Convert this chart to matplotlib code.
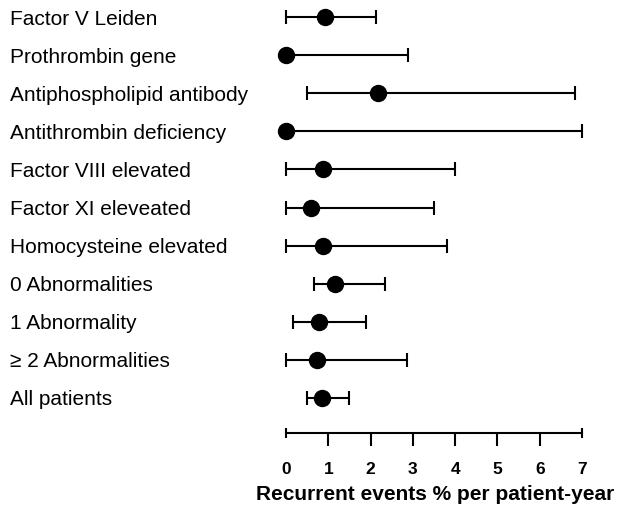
import matplotlib
matplotlib.use("Agg")
import matplotlib.pyplot as plt
import matplotlib.transforms as mtransforms
import numpy as np

plt.rcParams['font.family'] = ['Liberation Sans', 'DejaVu Sans']

labels = ["Factor V Leiden", "Prothrombin gene", "Antiphospholipid antibody",
          "Antithrombin deficiency", "Factor VIII elevated", "Factor XI eleveated",
          "Homocysteine elevated", "0 Abnormalities", "1 Abnormality",
          "\u2265 2 Abnormalities", "All patients"]
estimate = [0.92, 0.0, 2.17, 0.0, 0.87, 0.58, 0.87, 1.16, 0.79, 0.74, 0.84]
lower = [0.0, 0.0, 0.50, 0.0, 0.0, 0.0, 0.0, 0.66, 0.16, 0.0, 0.50]
upper = [2.12, 2.88, 6.83, 7.0, 4.0, 3.51, 3.81, 2.33, 1.89, 2.85, 1.50]
xticks = [0, 1, 2, 3, 4, 5, 6, 7]

est = np.array(estimate)
err = [est - np.array(lower), np.array(upper) - est]
rows = np.arange(len(labels))

fig = plt.figure(figsize=(6.18, 5.15), dpi=100)
ax = fig.add_axes([286 / 618, 1 - 433 / 515, 296 / 618, 433 / 515])

ax.errorbar(est, rows, xerr=err, fmt='o', color='black', ecolor='black',
            markersize=11.5, elinewidth=1.5, capsize=5, capthick=1.5, clip_on=False)

ax.set_xlim(0, 7)
ax.set_ylim(10.92, -0.45)

for s in ['top', 'right', 'left']:
    ax.spines[s].set_visible(False)
ax.spines['bottom'].set_bounds(0, 7)
ax.spines['bottom'].set_linewidth(1.5)
ax.set_yticks([])

# end caps of the axis line
ax.plot([0, 7], [10.92, 10.92], linestyle='none', marker='|', color='black',
        markersize=7, markeredgewidth=1.5, clip_on=False)

ax.xaxis.remove_overlapping_locs = False
ax.set_xticks(xticks)
ax.set_xticklabels([str(t) for t in xticks], fontweight='bold', fontsize=12.5)
ax.tick_params(axis='x', which='major', length=0, pad=21)
ax.set_xticks(xticks[1:-1], minor=True)
ax.tick_params(axis='x', which='minor', length=9.5, width=1.5, direction='out')
ax.set_xlabel("Recurrent events % per patient-year", fontweight='bold',
              fontsize=15, labelpad=6)
ax.xaxis.label.set_x(0.505)

trans = mtransforms.blended_transform_factory(fig.transFigure, ax.transData)
for r, lab in zip(rows, labels):
    ax.text(10 / 618, r + 0.05, lab, transform=trans, fontsize=15,
            ha='left', va='center')

fig.savefig("out.png", dpi=100)
